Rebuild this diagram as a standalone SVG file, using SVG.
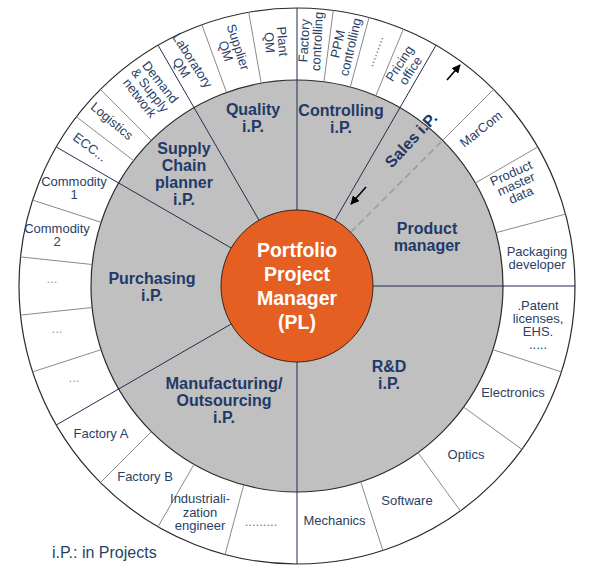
<svg xmlns="http://www.w3.org/2000/svg" width="607" height="570" viewBox="0 0 607 570">
<defs>
<marker id="ah" viewBox="0 0 10 10" refX="9" refY="5" markerWidth="5.5" markerHeight="5.5" orient="auto" markerUnits="strokeWidth">
<path d="M0,0 L10,5 L0,10 z" fill="#000"/>
</marker>
</defs>
<style>
.outer{fill:#fff;stroke:#2b2b2b;stroke-width:1.2}
.gray{fill:#C0C0C0;stroke:#2b2b2b;stroke-width:1.2}
.core{fill:#E55E22;stroke:#3a2418;stroke-width:1}
.major{stroke:#1F2F4F;stroke-width:1;fill:none}
.minor{stroke:#8a8a8a;stroke-width:1;fill:none}
.dash{stroke:#9c9c9c;stroke-width:1.6;stroke-dasharray:7 4;fill:none}
.arrow{stroke:#000;stroke-width:1.6;fill:none;marker-end:url(#ah)}
.g{font-family:"Liberation Sans",Arial,sans-serif;font-weight:bold;font-size:16px;fill:#1F3A68;text-anchor:middle}
.o{font-family:"Liberation Sans",Arial,sans-serif;font-size:13px;fill:#2A3F66;text-anchor:middle}
.d{font-family:"Liberation Sans",Arial,sans-serif;font-size:13px;fill:#9a9a9a;text-anchor:middle}
.dd{font-family:"Liberation Sans",Arial,sans-serif;font-size:13px;fill:#6a7890;text-anchor:middle}
.c{font-family:"Liberation Sans",Arial,sans-serif;font-weight:bold;font-size:19.5px;fill:#fff;text-anchor:middle}
.leg{font-family:"Liberation Sans",Arial,sans-serif;font-size:16px;fill:#2A3F66}
</style>
<rect width="607" height="570" fill="#fff"/>
<g id="rings">
<circle class="outer" cx="297" cy="286" r="278"/>
<circle class="gray" cx="297" cy="286" r="206"/>
</g>
<g id="connectors">
<line class="major" x1="373" y1="286" x2="575" y2="286"/>
<line class="major" x1="335" y1="220.2" x2="436" y2="45.2"/>
<line class="major" x1="297" y1="210" x2="297" y2="8"/>
<line class="major" x1="259" y1="220.2" x2="158" y2="45.2"/>
<line class="major" x1="231.2" y1="248" x2="56.3" y2="147"/>
<line class="major" x1="231.2" y1="324" x2="56.3" y2="425"/>
<line class="major" x1="297" y1="362" x2="297" y2="564"/>
<line class="dash" x1="350.7" y1="232.3" x2="442.7" y2="140.3"/>
<line class="minor" x1="442.7" y1="140.3" x2="493.6" y2="89.4"/>
<line class="minor" x1="261.2" y1="83.1" x2="248.7" y2="12.2"/>
<line class="minor" x1="226.5" y1="92.4" x2="201.9" y2="24.8"/>
<line class="minor" x1="151.3" y1="140.3" x2="100.4" y2="89.4"/>
<line class="minor" x1="133.6" y1="160.6" x2="76.4" y2="116.8"/>
<line class="minor" x1="101.1" y1="222.3" x2="32.6" y2="200.1"/>
<line class="minor" x1="92.1" y1="264.5" x2="20.5" y2="256.9"/>
<line class="minor" x1="92.1" y1="307.5" x2="20.5" y2="315.1"/>
<line class="minor" x1="101.1" y1="349.7" x2="32.6" y2="371.9"/>
<line class="minor" x1="151.3" y1="431.7" x2="100.4" y2="482.6"/>
<line class="minor" x1="194" y1="464.4" x2="158" y2="526.8"/>
<line class="minor" x1="243.7" y1="485" x2="225.1" y2="554.5"/>
<line class="minor" x1="360.7" y1="481.9" x2="382.9" y2="550.4"/>
<line class="minor" x1="418.1" y1="452.7" x2="460.4" y2="510.9"/>
<line class="minor" x1="463.7" y1="407.1" x2="521.9" y2="449.4"/>
<line class="minor" x1="492.9" y1="349.7" x2="561.4" y2="371.9"/>
<line class="minor" x1="496" y1="232.7" x2="565.5" y2="214.1"/>
<line class="minor" x1="475.4" y1="183" x2="537.7" y2="147"/>
<line class="minor" x1="375.8" y1="95.7" x2="403.4" y2="29.2"/>
<line class="minor" x1="350.3" y1="87" x2="369" y2="17.5"/>
<line class="minor" x1="323.9" y1="81.8" x2="333.3" y2="10.4"/>
<line class="arrow" x1="447" y1="80" x2="460" y2="65"/>
<line class="arrow" x1="366" y1="187" x2="351" y2="204"/>
</g>
<g id="pl">
<circle class="core" cx="297" cy="286" r="76"/>
<text class="c" x="297" y="257">Portfolio</text>
<text class="c" x="297" y="281">Project</text>
<text class="c" x="297" y="305">Manager</text>
<text class="c" x="297" y="329">(PL)</text>
</g>
<g id="quality"><text class="g" x="253" y="115">Quality</text><text class="g" x="253" y="132">i.P.</text></g>
<g id="controlling"><text class="g" x="341" y="116">Controlling</text><text class="g" x="341" y="133">i.P.</text></g>
<g id="supply-chain"><text class="g" x="184" y="154">Supply</text><text class="g" x="184" y="171">Chain</text><text class="g" x="184" y="188">planner</text><text class="g" x="184" y="205">i.P.</text></g>
<g id="purchasing"><text class="g" x="152" y="284">Purchasing</text><text class="g" x="152" y="301">i.P.</text></g>
<g id="manufacturing"><text class="g" x="224" y="389" textLength="117" lengthAdjust="spacingAndGlyphs">Manufacturing/</text><text class="g" x="224" y="406">Outsourcing</text><text class="g" x="224" y="423">i.P.</text></g>
<g id="rd"><text class="g" x="389" y="372">R&amp;D</text><text class="g" x="389" y="389">i.P.</text></g>
<g id="product-manager"><text class="g" x="427" y="234">Product</text><text class="g" x="427" y="251">manager</text></g>
<g id="sales"><text class="g" transform="translate(411,140) rotate(-47)" x="0" y="5.5">Sales i.P.</text></g>
<g id="plant-qm" transform="translate(276,42) rotate(85)"><text class="o" y="-2">Plant</text><text class="o" y="11">QM</text></g>
<g id="supplier-qm" transform="translate(232,49) rotate(72)"><text class="o" y="-2">Supplier</text><text class="o" y="11">QM</text></g>
<g id="laboratory-qm" transform="translate(187,64) rotate(57)"><text class="o" y="-2">Laboratory</text><text class="o" y="11">QM</text></g>
<g id="demand-supply" transform="translate(150,90) rotate(52)"><text class="o" y="-8.5">Demand</text><text class="o" y="4.5">&amp; Supply</text><text class="o" y="17.5">network</text></g>
<g id="logistics" transform="translate(112,121) rotate(40)"><text class="o" y="4.5">Logistics</text></g>
<g id="ecc" transform="translate(90,147) rotate(37)"><text class="o" y="4.5">ECC...</text></g>
<g id="commodity1"><text class="o" x="74" y="186">Commodity</text><text class="o" x="74" y="199">1</text></g>
<g id="commodity2"><text class="o" x="57" y="233">Commodity</text><text class="o" x="57" y="246">2</text></g>
<g id="dots1"><text class="d" x="52" y="283">...</text></g>
<g id="dots2"><text class="d" x="57" y="333">...</text></g>
<g id="dots3"><text class="d" x="74" y="382">...</text></g>
<g id="factory-a"><text class="o" x="101" y="438">Factory A</text></g>
<g id="factory-b"><text class="o" x="145" y="481">Factory B</text></g>
<g id="industrialization"><text class="o" x="200" y="503">Industriali-</text><text class="o" x="200" y="516.5">zation</text><text class="o" x="200" y="530">engineer</text></g>
<g id="dots4"><text class="dd" x="261" y="526">.........</text></g>
<g id="mechanics"><text class="o" x="334.5" y="525">Mechanics</text></g>
<g id="software"><text class="o" x="407" y="505">Software</text></g>
<g id="optics"><text class="o" x="466" y="459">Optics</text></g>
<g id="electronics"><text class="o" x="513" y="397">Electronics</text></g>
<g id="patent"><text class="o" x="538" y="310">.Patent</text><text class="o" x="538" y="323">licenses,</text><text class="o" x="538" y="336">EHS.</text><text class="o" x="538" y="349">.....</text></g>
<g id="packaging"><text class="o" x="537" y="256">Packaging</text><text class="o" x="537" y="269">developer</text></g>
<g id="product-master" transform="translate(516,184) rotate(-24)"><text class="o" y="-7.5">Product</text><text class="o" y="4.5">master</text><text class="o" y="16.5">data</text></g>
<g id="marcom" transform="translate(481,129) rotate(-38)"><text class="o" y="4.5">MarCom</text></g>
<g id="pricing" transform="translate(405,67) rotate(-57)"><text class="o" y="-2">Pricing</text><text class="o" y="11">office</text></g>
<g id="dots5" transform="translate(377,52) rotate(-70)"><text class="dd" y="1">.........</text></g>
<g id="ppm" transform="translate(344,45.5) rotate(-77)"><text class="o" y="-2">PPM</text><text class="o" y="11">controlling</text></g>
<g id="factory-controlling" transform="translate(310.5,41) rotate(-87)"><text class="o" y="-2">Factory</text><text class="o" y="11">controlling</text></g>
<g id="legend"><text class="leg" x="52" y="558">i.P.: in Projects</text></g>
</svg>
